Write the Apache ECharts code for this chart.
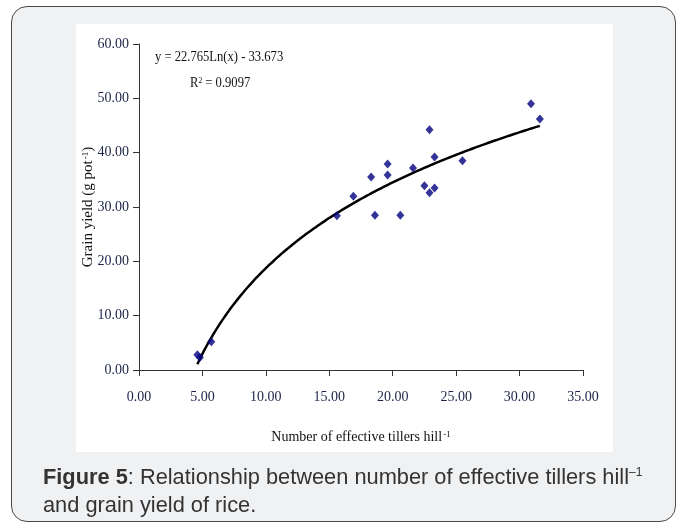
<!DOCTYPE html>
<html>
<head>
<meta charset="utf-8">
<title>Effective tillers vs grain yield</title>
<script src="https://cdn.jsdelivr.net/npm/echarts@6/dist/echarts.min.js"></script>
<style>
  html, body { margin: 0; padding: 0; }
  body { width: 683px; height: 524px; position: relative; overflow: hidden; background: #ffffff; }
  #frame {
    position: absolute; left: 11px; top: 6px; width: 665px; height: 516px;
    box-sizing: border-box; border: 1.5px solid #4a4a4a; border-radius: 16px;
    background: #f0f1f3;
  }
  #panel { position: absolute; left: 76px; top: 24px; width: 537px; height: 428px; background: #ffffff; }
  #chart { position: absolute; left: 0; top: 0; width: 683px; height: 524px; }
  #caption {
    position: absolute; left: 43px; top: 463px; width: 636px;
    font-family: "Liberation Sans", Arial, sans-serif; font-size: 21.8px; line-height: 28px; color: #333333;
  }
  #caption b { font-weight: bold; }
  #caption sup { font-size: 12px; vertical-align: 8px; line-height: 0; }
</style>
</head>
<body>
<div id="frame"></div>
<div id="panel"></div>
<div id="chart"></div>
<div id="caption"><b>Figure 5</b>: Relationship between number of effective tillers hill<sup>–1</sup><br>and grain yield of rice.</div>
<script>
// Effective tillers per hill (x) and grain yield per pot (y), one entry per observation
const tillers = [4.6, 4.8, 5.7, 15.6, 16.9, 18.3, 18.6, 19.6, 19.6, 20.6, 21.6, 22.5, 22.9, 23.3, 23.3, 22.9, 25.5, 30.9, 31.6];
const grainYield = [2.8, 2.3, 5.2, 28.4, 32.0, 35.5, 28.5, 37.9, 35.9, 28.5, 37.2, 33.9, 32.6, 33.5, 39.2, 44.2, 38.5, 49.0, 46.2];

// Logarithmic trend line y = a*ln(x) + b and its fit quality
const trendA = 22.765;
const trendB = -33.673;
const rSquared = 0.9097;

// Axis tick settings
const xTicks = { min: 0, max: 35, step: 5 };
const yTicks = { min: 0, max: 60, step: 10 };

const scatterData = tillers.map((x, i) => [x, grainYield[i]]);

// Sample the trend curve across the observed tiller range
const xLo = Math.min(...tillers);
const xHi = Math.max(...tillers);
const trendData = [];
const nSteps = 80;
for (let i = 0; i <= nSteps; i++) {
  const x = xLo + (xHi - xLo) * i / nSteps;
  trendData.push([x, trendA * Math.log(x) + trendB]);
}

const eqText = 'y = ' + trendA.toFixed(3) + 'Ln(x) ' + (trendB < 0 ? '- ' : '+ ') + Math.abs(trendB).toFixed(3);

const serif = '"Liberation Serif", "Times New Roman", serif';
const inkColor = '#1c2447';

const chart = echarts.init(document.getElementById('chart'), null, { renderer: 'canvas' });
chart.setOption({
  backgroundColor: 'transparent',
  animation: false,
  grid: { left: 139, right: 100, top: 44, bottom: 154 },
  xAxis: {
    type: 'value',
    min: xTicks.min, max: xTicks.max, interval: xTicks.step,
    name: '{t|Number of effective tillers hill}{s|-1}',
    nameLocation: 'middle',
    nameGap: 60,
    nameMoveOverlap: false,
    nameTextStyle: {
      rich: {
        t: { fontFamily: serif, fontSize: 14, color: '#111111' },
        s: { fontFamily: serif, fontSize: 9, color: '#111111', verticalAlign: 'top', padding: [0, 0, 6, 1] }
      }
    },
    splitLine: { show: false },
    axisLine: { show: true, onZero: false, lineStyle: { color: '#333333', width: 1 } },
    axisTick: { show: true, inside: false, length: 6, lineStyle: { color: '#333333' } },
    axisLabel: { fontFamily: serif, fontSize: 14, color: inkColor, margin: 20, formatter: v => v.toFixed(2) }
  },
  yAxis: {
    type: 'value',
    min: yTicks.min, max: yTicks.max, interval: yTicks.step,
    name: '{t|Grain yield (g pot}{s|-1}{t|)}',
    nameLocation: 'middle',
    nameGap: 43,
    nameRotate: 90,
    nameMoveOverlap: false,
    nameTextStyle: {
      rich: {
        t: { fontFamily: serif, fontSize: 15, color: '#111111' },
        s: { fontFamily: serif, fontSize: 9, color: '#111111', verticalAlign: 'top', padding: [0, 0, 6, 1] }
      }
    },
    splitLine: { show: false },
    axisLine: { show: true, lineStyle: { color: '#333333', width: 1 } },
    axisTick: { show: true, inside: false, length: 6, lineStyle: { color: '#333333' } },
    axisLabel: { fontFamily: serif, fontSize: 14, color: inkColor, margin: 10, formatter: v => v.toFixed(2) }
  },
  series: [
    {
      name: 'trend',
      type: 'line',
      data: trendData,
      showSymbol: false,
      smooth: true,
      lineStyle: { color: '#000000', width: 2.5 },
      z: 2
    },
    {
      name: 'observations',
      type: 'scatter',
      data: scatterData,
      symbol: 'diamond',
      symbolSize: [8, 9],
      itemStyle: { color: '#000080' },
      z: 3
    }
  ],
  graphic: [
    {
      type: 'text', left: 155, top: 50,
      style: { text: eqText, fontFamily: serif, fontSize: 15, fill: '#111111' },
      scaleX: 0.84
    },
    {
      type: 'text', left: 190, top: 76,
      style: {
        text: '{t|R}{s|2}{t| = ' + rSquared.toFixed(4) + '}',
        rich: {
          t: { fontFamily: serif, fontSize: 15, fill: '#111111' },
          s: { fontFamily: serif, fontSize: 9, fill: '#111111', verticalAlign: 'top', padding: [0, 0, 6, 0] }
        }
      },
      scaleX: 0.84
    }
  ]
});
</script>
</body>
</html>
